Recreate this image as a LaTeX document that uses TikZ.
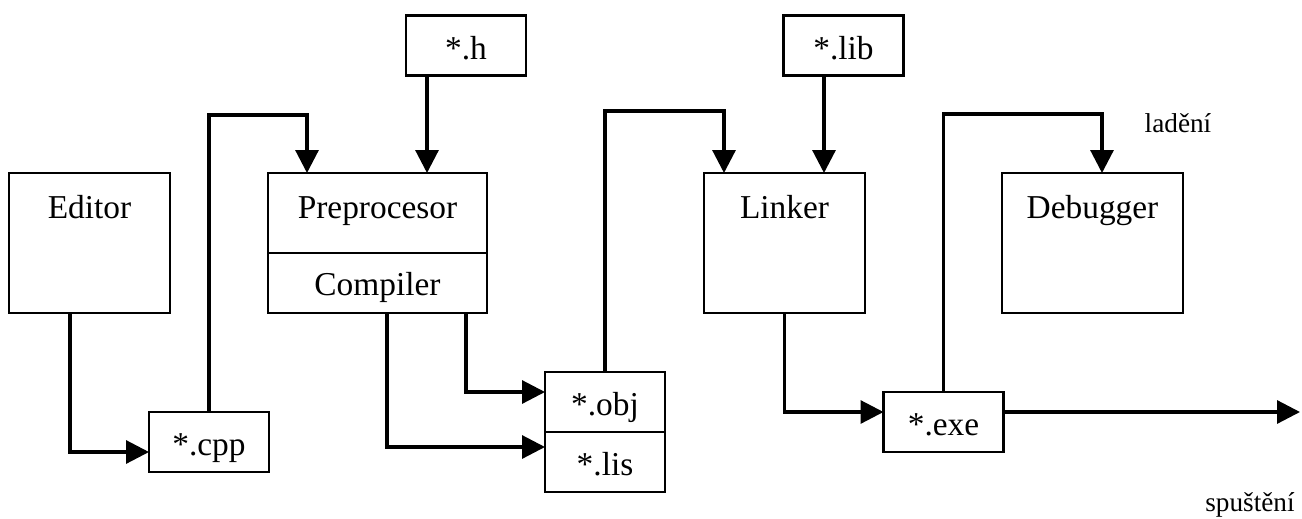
\documentclass[tikz,border=0pt]{standalone}
\usepackage{fontspec}
\setmainfont{Liberation Serif}
\usetikzlibrary{positioning,arrows.meta}

\begin{document}
\begin{tikzpicture}[
unit/.style={
	draw, line width=1.4pt, rectangle, outer sep=0pt,
	inner xsep=4pt, inner ysep=0pt,
	font=\fontsize{19}{23}\selectfont
},
tool/.style={
	unit, minimum width=#1, minimum height=2.8cm,
	text height=0.9cm, text depth=1.9cm
},
file/.style={
	unit, minimum width=2.4cm, minimum height=1.2cm,
	text height=0.87cm, text depth=0.33cm
},
note/.style={font=\fontsize{15.5}{18}\selectfont, inner sep=0pt},
>={Triangle[length=13pt,width=13pt]}, line width=1.8pt
]
\useasboundingbox (0,0) rectangle (26.04,-10.36);
% programs
\node[tool=3.22cm] (editor) at (1.79,-4.86) {Editor};
\node[unit, minimum width=4.38cm, text height=0.9cm, text depth=0.7cm] (prep) at (7.55,-4.26) {Preprocesor};
\node[unit, minimum width=4.38cm, text height=0.84cm, text depth=0.36cm, below=0pt of prep] (comp) {Compiler};
\node[tool=3.22cm] (linker) at (15.69,-4.86) {Linker};
\node[tool=3.62cm] (debugger) at (21.85,-4.86) {Debugger};
% files
\node[file] (h) at (9.32,-0.91) {*.h};
\node[file] (lib) at (16.87,-0.91) {*.lib};
\node[file] (cpp) at (4.18,-8.84) {*.cpp};
\node[file] (obj) at (12.1,-8.04) {*.obj};
\node[file, below=0pt of obj] (lis) {*.lis};
\node[file] (exe) at (18.87,-8.44) {*.exe};
\coordinate (out) at (26.0,-8.24);
% labels
\node[note] (ladeni) at (23.56,-2.46) {ladění};
\node[note] (spusteni) at (25.0,-10.1) {spuštění};
% connections
\draw[->] ([xshift=-0.39cm]editor.south) |- ([yshift=-0.2cm]cpp.west);
\draw[->] (cpp.north) |- ([xshift=-1.41cm,yshift=1.16cm]prep.north) -- ([xshift=-1.41cm]prep.north);
\draw[->] ([xshift=-0.78cm]h.south) -- ([xshift=-0.78cm]h.south |- prep.north);
\draw[->] ([xshift=1.77cm]comp.south) |- ([yshift=0.2cm]obj.west);
\draw[->] ([xshift=0.19cm]comp.south) |- ([yshift=0.3cm]lis.west);
\draw[->] (obj.north) |- ([xshift=-1.21cm,yshift=1.24cm]linker.north) -- ([xshift=-1.21cm]linker.north);
\draw[->] ([xshift=-0.39cm]lib.south) -- ([xshift=-0.39cm]lib.south |- linker.north);
\draw[->] (linker.south) |- ([yshift=0.2cm]exe.west);
\draw[->] (exe.north) |- ([xshift=0.19cm,yshift=1.18cm]debugger.north) -- ([xshift=0.19cm]debugger.north);
\draw[->] ([yshift=0.2cm]exe.east) -- (out);
\end{tikzpicture}
\end{document}
